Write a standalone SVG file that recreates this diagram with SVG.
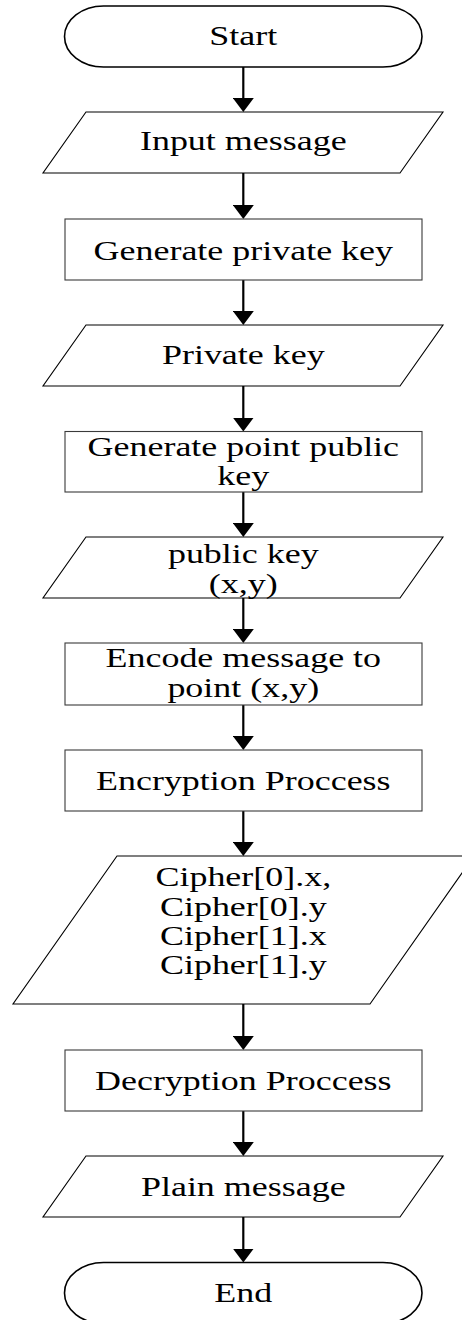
<svg xmlns="http://www.w3.org/2000/svg" width="462" height="1320" viewBox="0 0 462 1320">
  <style>
    .term { fill: #ffffff; stroke: #000000; stroke-width: 1.6; }
    .proc { fill: #ffffff; stroke: #3a3a3a; stroke-width: 1.1; }
    .io { fill: #ffffff; stroke: #000000; stroke-width: 1.1; }
    .lbl { font-family: "Liberation Serif", "Times New Roman", serif; font-size: 28px; fill: #000000; text-anchor: middle; }
    .flow { stroke: #000000; stroke-width: 2.2; fill: none; marker-end: url(#head); }
  </style>
  <defs>
    <marker id="head" markerUnits="userSpaceOnUse" viewBox="0 0 14 21" refX="10" refY="10.5" markerWidth="14" markerHeight="21" orient="auto">
      <path d="M0,0 L14,10.5 L0,21 Z" fill="#000000"/>
    </marker>
  </defs>
  <rect width="462" height="1320" fill="#ffffff"/>

  <g id="connectors">
    <line class="flow" x1="243.3" y1="67" x2="243.3" y2="108"/>
    <line class="flow" x1="243.3" y1="173" x2="243.3" y2="215"/>
    <line class="flow" x1="243.3" y1="280" x2="243.3" y2="321"/>
    <line class="flow" x1="243.3" y1="386" x2="243.3" y2="427.5"/>
    <line class="flow" x1="243.3" y1="492" x2="243.3" y2="533"/>
    <line class="flow" x1="243.3" y1="598" x2="243.3" y2="639"/>
    <line class="flow" x1="243.3" y1="705" x2="243.3" y2="746"/>
    <line class="flow" x1="243.3" y1="811" x2="243.3" y2="852"/>
    <line class="flow" x1="243.3" y1="1004" x2="243.3" y2="1046"/>
    <line class="flow" x1="243.3" y1="1111" x2="243.3" y2="1152"/>
    <line class="flow" x1="243.3" y1="1217" x2="243.3" y2="1258.5"/>
  </g>

  <g id="start">
    <path class="term" d="M103.5,6 H383 A39,30.5 0 0 1 383,67 H103.5 A39,30.5 0 0 1 103.5,6 Z"/>
    <text class="lbl" transform="translate(243.3,45) scale(1.285,1)">Start</text>
  </g>

  <g id="input-message">
    <polygon class="io" points="86,112 443,112 400,173 43,173"/>
    <text class="lbl" transform="translate(243.3,150) scale(1.285,1)">Input message</text>
  </g>

  <g id="generate-private-key">
    <rect class="proc" x="65" y="219" width="357" height="61"/>
    <text class="lbl" transform="translate(243.3,259.5) scale(1.285,1)">Generate private key</text>
  </g>

  <g id="private-key">
    <polygon class="io" points="86,325 443,325 400,386 43,386"/>
    <text class="lbl" transform="translate(243.3,364) scale(1.285,1)">Private key</text>
  </g>

  <g id="generate-public-key">
    <rect class="proc" x="65" y="431.5" width="357" height="60.5"/>
    <text class="lbl" transform="translate(243.3,456) scale(1.285,1)">Generate point public</text>
    <text class="lbl" transform="translate(243.3,485) scale(1.285,1)">key</text>
  </g>

  <g id="public-key">
    <polygon class="io" points="86,537 443,537 400,598 43,598"/>
    <text class="lbl" transform="translate(243.3,562.5) scale(1.285,1)">public key</text>
    <text class="lbl" transform="translate(243.3,592.5) scale(1.285,1)">(x,y)</text>
  </g>

  <g id="encode-message">
    <rect class="proc" x="65" y="643" width="357" height="62"/>
    <text class="lbl" transform="translate(243.3,667) scale(1.285,1)">Encode message to</text>
    <text class="lbl" transform="translate(243.3,697) scale(1.285,1)">point (x,y)</text>
  </g>

  <g id="encryption">
    <rect class="proc" x="65" y="750" width="357" height="61"/>
    <text class="lbl" transform="translate(243.3,789.5) scale(1.285,1)">Encryption Proccess</text>
  </g>

  <g id="cipher">
    <polygon class="io" points="117,856 474,856 370,1004 13,1004"/>
    <text class="lbl" transform="translate(243.3,886) scale(1.285,1)">Cipher[0].x,</text>
    <text class="lbl" transform="translate(243.3,915.5) scale(1.285,1)">Cipher[0].y</text>
    <text class="lbl" transform="translate(243.3,945) scale(1.285,1)">Cipher[1].x</text>
    <text class="lbl" transform="translate(243.3,974) scale(1.285,1)">Cipher[1].y</text>
  </g>

  <g id="decryption">
    <rect class="proc" x="65" y="1050" width="357" height="61"/>
    <text class="lbl" transform="translate(243.3,1089.5) scale(1.285,1)">Decryption Proccess</text>
  </g>

  <g id="plain-message">
    <polygon class="io" points="86,1156 443,1156 400,1217 43,1217"/>
    <text class="lbl" transform="translate(243.3,1195.5) scale(1.285,1)">Plain message</text>
  </g>

  <g id="end">
    <path class="term" d="M103.5,1262.5 H383 A39,30.5 0 0 1 383,1323.5 H103.5 A39,30.5 0 0 1 103.5,1262.5 Z"/>
    <text class="lbl" transform="translate(243.3,1301.5) scale(1.285,1)">End</text>
  </g>
</svg>
